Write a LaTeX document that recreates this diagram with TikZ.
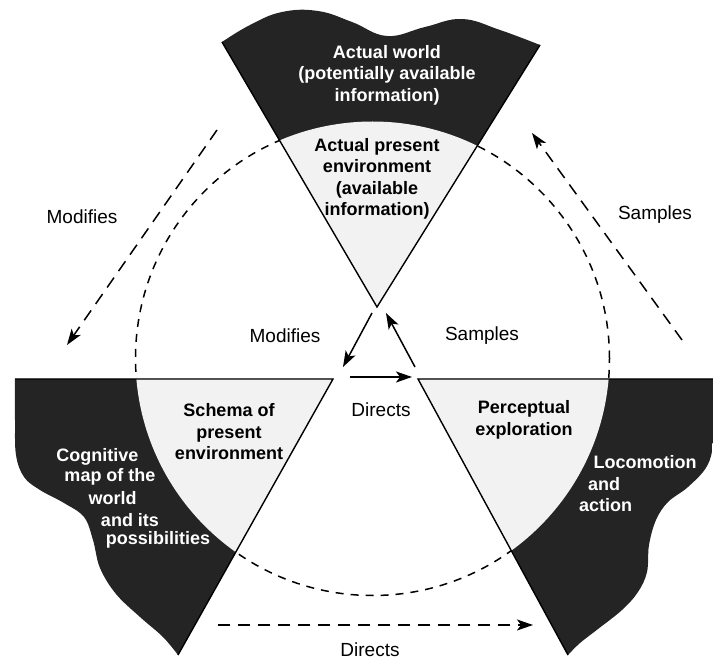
\documentclass[tikz,border=0pt]{standalone}
\usepackage{fontspec}
\setmainfont{Liberation Sans}
\usetikzlibrary{arrows.meta}
\begin{document}
\begin{tikzpicture}[x=1pt,y=-1pt,
  darkfill/.style={fill=black!86},
  lightfill/.style={fill=black!5},
  edgeline/.style={line width=1.4pt, line join=miter, line cap=butt},
  circline/.style={line width=1.5pt, dash pattern=on 8pt off 7pt},
  bigarrow/.style={line width=1.5pt, dash pattern=on 12pt off 8pt, -{Stealth[length=16pt,width=11pt,inset=4pt]}},
  smallarrow/.style={line width=1.5pt, -{Stealth[length=16pt,width=11pt,inset=4pt]}},
  darktext/.style={text=white, font=\bfseries\fontsize{18}{21.5}\selectfont, align=center, inner sep=0pt},
  lighttext/.style={text=black, font=\bfseries\fontsize{18}{21.5}\selectfont, align=center, inner sep=0pt},
  lbl/.style={font=\fontsize{19}{22}\selectfont, inner sep=0pt}
]
\useasboundingbox (0,0) rectangle (713,660);
% circle
\coordinate (C) at (372.5,358.5);
\draw[circline] (C) circle[radius=237pt];
% top shape
\coordinate (T1) at (222,42);
\coordinate (T2) at (540,45);
\coordinate (TA) at (377,307);
\begin{scope}
  \clip (T1) -- (TA) -- (T2) -- plot[smooth, tension=0.7] coordinates {(540,45) (500,30) (462,19) (425,27) (387,36) (352,22) (318,11) (282,12) (250,25) (222,42)} -- cycle;
  \fill[darkfill] (0,0) rectangle (713,660);
  \fill[lightfill] (C) circle[radius=237pt];
\end{scope}
% left shape
\coordinate (L1) at (15,379);
\coordinate (L2) at (333,379);
\coordinate (LT) at (178,655);
\begin{scope}
  \clip (L1) -- (L2) -- (LT) -- plot[smooth, tension=0.6] coordinates {(178,655) (163,637) (140,617) (116,594) (100,568) (93,540) (84,517) (64,503) (40,490) (24,477) (16,455) (15,420) (15,379)} -- cycle;
  \fill[darkfill] (0,0) rectangle (713,660);
  \fill[lightfill] (C) circle[radius=237pt];
\end{scope}
% right shape
\coordinate (R1) at (418,379);
\coordinate (R2) at (713,379);
\coordinate (RT) at (568,655);
\begin{scope}
  \clip (R1) -- (R2) -- plot[smooth, tension=0.6] coordinates {(713,379) (713,440) (707,466) (688,487) (668,502) (656,520) (649,545) (647,572) (638,592) (622,610) (598,629) (580,643) (568,655)} -- cycle;
  \fill[darkfill] (0,0) rectangle (713,660);
  \fill[lightfill] (C) circle[radius=237pt];
\end{scope}
% edges
\draw[edgeline] (T1) -- (TA) -- (T2);
\draw[edgeline] (L1) -- (L2) -- (LT);
\draw[edgeline] (R2) -- (R1) -- (RT);
% texts in shapes
\node[darktext] (aw) at (387,75) {Actual world\\(potentially available\\information)};
\node[lighttext] (ape) at (377,179) {Actual present\\environment\\(available\\information)};
\node[lighttext] (sch) at (229,432) {Schema of\\present\\environment};
\node[lighttext] (pe) at (524,420) {Perceptual\\exploration};
\node[darktext] (cm1) at (97.5,457) {Cognitive};
\node[darktext] (cm2) at (110,477) {map of the};
\node[darktext] (cm3) at (112.5,498) {world};
\node[darktext] (cm4) at (130,520) {and its};
\node[darktext] (cm5) at (158,540) {possibilities};
\node[darktext] (lo1) at (645,462) {Locomotion};
\node[darktext, anchor=west] (lo2) at (588,484) {and};
\node[darktext, anchor=west] (lo3) at (579,505) {action};
% labels
\node[lbl] (mod1) at (82,217) {Modifies};
\node[lbl] (samp1) at (655,215) {Samples};
\node[lbl] (mod2) at (285,336) {Modifies};
\node[lbl] (samp2) at (482,336) {Samples};
\node[lbl] (dir1) at (381,410) {Directs};
\node[lbl] (dir2) at (370,650) {Directs};
% arrows
\coordinate (ma1) at (217,130); \coordinate (ma2) at (67,345);
\coordinate (sa1) at (682,340); \coordinate (sa2) at (532,133);
\coordinate (da1) at (218,625); \coordinate (da2) at (533,625);
\coordinate (mi1) at (372,313); \coordinate (mi2) at (343,367);
\coordinate (si1) at (415,367); \coordinate (si2) at (386,313);
\coordinate (di1) at (350,377); \coordinate (di2) at (412,377);
\draw[bigarrow] (ma1) -- (ma2);
\draw[bigarrow] (sa1) -- (sa2);
\draw[bigarrow] (da1) -- (da2);
\draw[smallarrow] (mi1) -- (mi2);
\draw[smallarrow] (si1) -- (si2);
\draw[smallarrow] (di1) -- (di2);
\end{tikzpicture}
\end{document}
